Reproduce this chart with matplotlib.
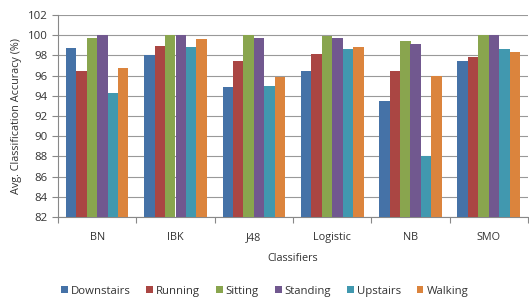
import numpy as np
import matplotlib.pyplot as plt

classifiers = ['BN', 'IBK', 'J48', 'Logistic', 'NB', 'SMO']
activities = ['Downstairs', 'Running', 'Sitting', 'Standing', 'Upstairs', 'Walking']

downstairs = [98.75, 98.0, 94.85, 96.45, 93.5, 97.45]
running = [96.45, 98.95, 97.45, 98.15, 96.45, 97.85]
sitting = [99.7, 100.0, 100.0, 99.9, 99.45, 100.0]
standing = [100.0, 100.0, 99.7, 99.7, 99.1, 100.0]
upstairs = [94.25, 98.85, 94.95, 98.65, 88.05, 98.65]
walking = [96.75, 99.6, 95.85, 98.8, 96.0, 98.3]

series = [downstairs, running, sitting, standing, upstairs, walking]
colors = ['#4572A7', '#AA4643', '#89A54E', '#71588F', '#4198AF', '#DB843D']

plt.rcParams['font.family'] = ['Open Sans', 'DejaVu Sans']

fig = plt.figure(figsize=(5.29, 2.98), dpi=100)
ax = fig.add_axes([58 / 529, 1 - 217 / 298, 470 / 529, 202 / 298])

x = np.arange(len(classifiers))
w = 0.8 / len(series)
for i, (vals, name) in enumerate(zip(series, activities)):
    ax.bar(x - 0.4 + w * (i + 0.5), np.array(vals) - 82, w, bottom=82,
           color=colors[i], label=name, zorder=3)

ax.set_ylim(82, 102)
ax.set_yticks(np.arange(82, 103, 2))
ax.set_xlim(-0.5, len(classifiers) - 0.5)
ax.set_xticks(np.arange(-0.5, len(classifiers)), minor=False)
ax.set_xticklabels([])
ax.set_xticks(x, minor=True)
ax.set_xticklabels(classifiers, minor=True, fontsize=7.8, color='#333333')
ax.tick_params(axis='x', which='minor', length=0, pad=11)
ax.tick_params(axis='x', which='major', length=4, color='#888888', direction='out')
ax.tick_params(axis='y', length=4, color='#888888', labelsize=8.2, labelcolor='#333333')

ax.grid(axis='y', color='#999999', linewidth=0.8, zorder=0)
for s in ['top', 'right']:
    ax.spines[s].set_visible(False)
ax.spines['left'].set_color('#888888')
ax.spines['bottom'].set_color('#888888')

ax.set_ylabel('Avg. Classification Accuracy (%)', fontsize=7.8, color='#333333')
ax.set_xlabel('Classifiers', fontsize=7.8, color='#333333', labelpad=7)

fig.legend(loc='lower center', bbox_to_anchor=(0.5, -0.03), ncol=6, frameon=False,
           fontsize=8.2, handlelength=0.6, handleheight=0.6, handletextpad=0.25,
           columnspacing=1.4, labelcolor='#333333')

fig.savefig('out.png', dpi=100)
